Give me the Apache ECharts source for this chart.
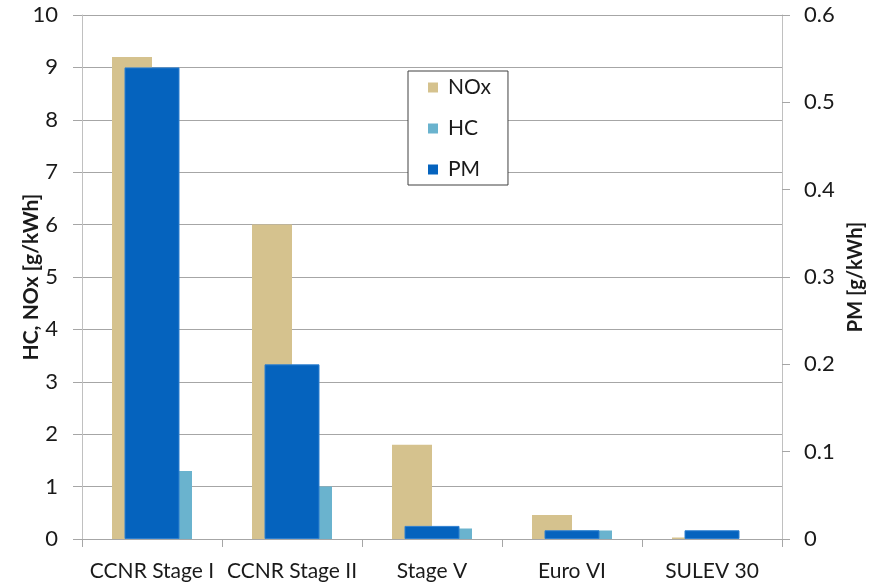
<!DOCTYPE html>
<html>
<head>
<meta charset="utf-8">
<script src="https://cdn.jsdelivr.net/npm/echarts@6/dist/echarts.min.js"></script>
<style>
  html, body { margin: 0; padding: 0; background: #ffffff; }
  #chart { width: 877px; height: 584px; }
</style>
</head>
<body>
<div id="chart"></div>
<script>
// Emission limits per standard
const categories = ['CCNR Stage I', 'CCNR Stage II', 'Stage V', 'Euro VI', 'SULEV 30'];
const noxValues = [9.2, 6.0, 1.8, 0.46, 0.03];   // g/kWh, left axis
const hcValues  = [1.3, 1.0, 0.2, 0.16, 0];      // g/kWh, left axis
const pmValues  = [0.54, 0.2, 0.015, 0.01, 0.01]; // g/kWh, right axis

const FONT = 'Lato, "Liberation Sans", sans-serif';
const TEXT = '#1a1a1a';

const chart = echarts.init(document.getElementById('chart'), null, { renderer: 'canvas' });

chart.setOption({
  animation: false,
  backgroundColor: '#ffffff',
  textStyle: { fontFamily: FONT, color: TEXT },
  grid: { left: 82, right: 95, top: 15, bottom: 45, containLabel: false },
  legend: {
    data: ['NOx', 'HC', 'PM'],
    orient: 'vertical',
    left: 408,
    top: 71,
    padding: [6, 17, 5, 20],
    itemGap: 20,
    itemWidth: 10,
    itemHeight: 10,
    icon: 'rect',
    itemStyle: { borderWidth: 0 },
    borderColor: '#404040',
    borderWidth: 1,
    backgroundColor: '#ffffff',
    textStyle: { fontFamily: FONT, fontSize: 21, lineHeight: 20, color: TEXT, padding: [0, 0, 0, 5] }
  },
  xAxis: [
    {
      type: 'category',
      data: categories,
      axisLine: { show: true, lineStyle: { color: '#a6a6a6', width: 1 } },
      axisTick: { show: true, length: 8, lineStyle: { color: '#a6a6a6' } },
      axisLabel: { fontFamily: FONT, fontSize: 21, color: TEXT, margin: 22, interval: 0 }
    },
    {
      type: 'category',
      data: categories,
      show: false
    }
  ],
  yAxis: [
    {
      type: 'value',
      min: 0, max: 10, interval: 1,
      name: 'HC, NOx [g/kWh]',
      nameLocation: 'middle',
      nameGap: 40,
      nameMoveOverlap: false,
      nameTextStyle: { fontFamily: FONT, fontSize: 21, fontWeight: 'bold', color: TEXT },
      axisLine: { show: true, lineStyle: { color: '#c0c0c0' } },
      axisTick: { show: true, length: 9, lineStyle: { color: '#a6a6a6' } },
      axisLabel: { fontFamily: FONT, fontSize: 22, color: TEXT, margin: 24 },
      splitLine: { show: true, lineStyle: { color: '#a6a6a6', width: 1 } }
    },
    {
      type: 'value',
      min: 0, max: 0.6, interval: 0.1,
      name: 'PM [g/kWh]',
      nameLocation: 'middle',
      nameGap: 64,
      nameMoveOverlap: false,
      nameTextStyle: { fontFamily: FONT, fontSize: 20, fontWeight: 'bold', color: TEXT },
      axisLine: { show: true, lineStyle: { color: '#c0c0c0' } },
      axisTick: { show: true, length: 8, lineStyle: { color: '#a6a6a6' } },
      axisLabel: { fontFamily: FONT, fontSize: 22, color: TEXT, margin: 22 },
      splitLine: { show: false }
    }
  ],
  series: [
    {
      name: 'NOx',
      type: 'bar',
      xAxisIndex: 0,
      yAxisIndex: 0,
      data: noxValues,
      barWidth: 40,
      barGap: '0%',
      itemStyle: { color: '#d5c28e' }
    },
    {
      name: 'HC',
      type: 'bar',
      xAxisIndex: 0,
      yAxisIndex: 0,
      data: hcValues,
      barWidth: 40,
      barGap: '0%',
      itemStyle: { color: '#6ab3ce' }
    },
    {
      name: 'PM',
      type: 'bar',
      xAxisIndex: 1,
      yAxisIndex: 1,
      data: pmValues,
      barWidth: 55,
      itemStyle: { color: '#0563be', borderColor: '#2f80d0', borderWidth: 1 }
    }
  ]
});
</script>
</body>
</html>
